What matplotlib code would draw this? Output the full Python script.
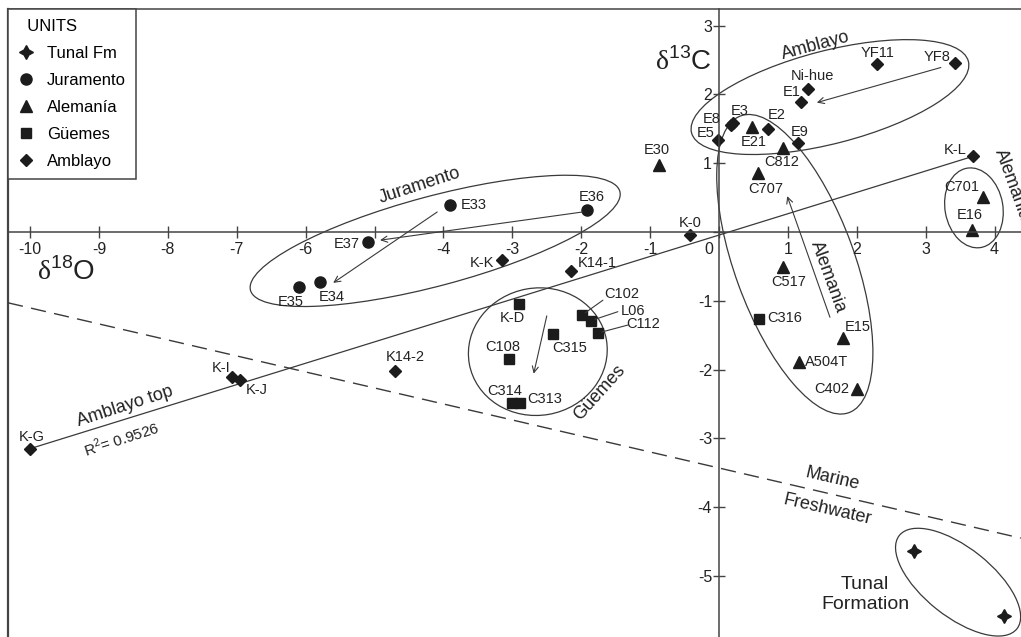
import numpy as np
import matplotlib
matplotlib.use("Agg")
import matplotlib.pyplot as plt
from matplotlib.patches import Ellipse
from matplotlib.lines import Line2D
import matplotlib.transforms as mtransforms

plt.rcParams['font.family'] = ['Liberation Sans', 'DejaVu Sans']
plt.rcParams['axes.unicode_minus'] = False
plt.rcParams['mathtext.fontset'] = 'custom'
plt.rcParams['mathtext.rm'] = 'Liberation Serif'
plt.rcParams['mathtext.sf'] = 'Liberation Sans'

# --- isotope data (d18O, d13C) per unit ---
tunal_x = [2.83, 4.14]
tunal_y = [-4.64, -5.58]

jur_names = ["E33", "E36", "E37", "E35", "E34"]
jur_x = [-3.90, -1.92, -5.09, -6.10, -5.79]
jur_y = [0.39, 0.32, -0.14, -0.80, -0.73]

ale_names = ["E30", "E21", "C812", "C707", "C701", "E16", "C517", "E15", "A504T", "C402"]
ale_x = [-0.87, 0.48, 0.93, 0.57, 3.83, 3.67, 0.93, 1.80, 1.16, 2.00]
ale_y = [0.97, 1.52, 1.22, 0.86, 0.51, 0.03, -0.51, -1.54, -1.89, -2.28]

gue_names = ["K-D", "C102", "L06", "C112", "C315", "C108", "C314", "C313", "C316"]
gue_x = [-2.90, -1.99, -1.86, -1.76, -2.41, -3.05, -3.00, -2.89, 0.58]
gue_y = [-1.05, -1.21, -1.29, -1.47, -1.48, -1.85, -2.49, -2.48, -1.27]

amb_names = ["YF11", "YF8", "Ni-hue", "E1", "E8", "E3", "E5", "E2", "E9", "K-L",
             "K-0", "K-K", "K14-1", "K14-2", "K-I", "K-J", "K-G"]
amb_x = [2.29, 3.43, 1.29, 1.19, 0.17, 0.21, -0.01, 0.71, 1.15, 3.69,
         -0.42, -3.15, -2.15, -4.70, -7.07, -6.95, -10.0]
amb_y = [2.44, 2.45, 2.08, 1.89, 1.55, 1.58, 1.34, 1.50, 1.29, 1.10,
         -0.04, -0.41, -0.57, -2.02, -2.11, -2.15, -3.15]

# Amblayo top regression and marine/freshwater boundary
reg_x = [-10.0, 3.69]
reg_y = [-3.15, 1.10]
bound_x = [-10.32, 4.38]
bound_y = [-1.03, -4.45]

# label offsets in pixels (dx, dy)
lab_off = {
    "E33": (23, 0), "E36": (5, 13), "E37": (-22, -2), "E35": (-8, -15), "E34": (12, -15),
    "E30": (-2, 15), "E21": (2, -15), "C812": (-1, -14), "C707": (7, -16), "C701": (-21, 10),
    "E16": (-2, 15), "C517": (6, -15), "E15": (15, 11), "A504T": (28, 0), "C402": (-25, 0),
    "K-D": (-7, -14), "C102": (40, 21), "L06": (42, 10), "C112": (45, 9), "C315": (17, -14),
    "C108": (-6, 12), "C314": (-8, 12), "C313": (25, 4), "C316": (26, 1),
    "YF11": (1, 11), "YF8": (-18, 6), "Ni-hue": (5, 13), "E1": (-9, 10), "E8": (-19, 6),
    "E3": (6, 12), "E5": (-13, 7), "E2": (9, 14), "E9": (1, 11), "K-L": (-18, 6),
    "K-0": (0, 12), "K-K": (-20, -3), "K14-1": (26, 8), "K14-2": (10, 14), "K-I": (-11, 9),
    "K-J": (17, -10), "K-G": (2, 12),
}
leaders = {"C102": (21, 15), "L06": (27, 9), "C112": (30, 8)}

ink = '#1c1c1c'
line_c = '#3a3a3a'

fig = plt.figure(figsize=(10.21, 6.37), dpi=100)
l = 8 / 1021
t = 9 / 637
ax = fig.add_axes([l, 0, 1 - l, 1 - t])
ax.set_xlim(-10.32, 4.383)
ax.set_ylim(-5.887, 3.24)

ax.spines['right'].set_visible(False)
ax.spines['left'].set_position('zero')
ax.spines['bottom'].set_position('zero')
for s in ['left', 'bottom', 'top']:
    ax.spines[s].set_color('#444444')
    ax.spines[s].set_linewidth(1.1)
# left frame line
ax.plot([0, 0], [0, 1], transform=ax.transAxes, color='#444444', lw=1.6, clip_on=False)

ax.xaxis.set_ticks_position('bottom')
ax.yaxis.set_ticks_position('left')
xt = list(range(-10, 5))
# -5 sits under the E37 point, so it stays unlabelled
ax.set_xticks(xt, [str(v) if v != -5 else "" for v in xt])
yt = [-5, -4, -3, -2, -1, 0, 1, 2, 3]
ax.set_yticks(yt, [str(v) if v != 0 else "" for v in yt])
ax.tick_params(direction='inout', length=8, width=1, color='#444444',
               labelsize=11.5, labelcolor='#222222')
ax.tick_params(axis='x', pad=3)
ax.tick_params(axis='y', pad=1)
for lab in ax.get_xticklabels():
    if lab.get_text() == "0":
        lab.set_transform(lab.get_transform() +
                          mtransforms.ScaledTranslation(-10 / 100, 0, fig.dpi_scale_trans))

# boundary and regression lines
ax.plot(bound_x, bound_y, color=line_c, lw=1.0, dashes=(11, 6))
ax.plot(reg_x, reg_y, color=line_c, lw=0.9)

# group ellipses (center, width, height, angle)
ells = [
    ((1.61, 1.96), 4.15, 1.35, 14.5),
    ((-4.12, -0.13), 5.55, 1.30, 15),
    ((-2.63, -1.74), 2.02, 1.85, 10),
    ((1.10, -0.47), 4.59, 1.74, -70),
    ((3.70, 0.35), 1.17, 0.84, 100),
    ((3.47, -5.09), 2.18, 1.0, -38.5),
]
for c, w, h, a in ells:
    ax.add_patch(Ellipse(c, w, h, angle=a, fill=False, ec=line_c, lw=0.9))

# trend arrows
arrows = [
    ((3.22, 2.39), (1.42, 1.88)),
    ((-1.98, 0.29), (-4.92, -0.12)),
    ((-4.09, 0.29), (-5.60, -0.74)),
    ((-2.50, -1.22), (-2.69, -2.06)),
    ((1.61, -1.24), (0.99, 0.52)),
]
for p0, p1 in arrows:
    ax.annotate("", xy=p1, xytext=p0,
                arrowprops=dict(arrowstyle='->', lw=0.8, color=line_c,
                                shrinkA=0, shrinkB=0, mutation_scale=11))

# markers
star = (4, 1, 0)
ax.plot(tunal_x, tunal_y, ls='none', marker=star, ms=10, color=ink)
ax.plot(jur_x, jur_y, ls='none', marker='o', ms=8, color=ink)
ax.plot(ale_x, ale_y, ls='none', marker='^', ms=9, color=ink)
ax.plot(gue_x, gue_y, ls='none', marker='s', ms=7.5, color=ink)
ax.plot(amb_x, amb_y, ls='none', marker='D', ms=6, color=ink)

# point labels
for names, xs, ys in [(jur_names, jur_x, jur_y), (ale_names, ale_x, ale_y),
                      (gue_names, gue_x, gue_y), (amb_names, amb_x, amb_y)]:
    for n, x, y in zip(names, xs, ys):
        dx, dy = lab_off[n]
        ax.annotate(n, (x, y), xytext=(dx, dy), textcoords='offset pixels',
                    ha='center', va='center', fontsize=10.5, color='#222222')
        if n in leaders:
            lx, ly = leaders[n]
            ax.annotate("", (x, y), xytext=(lx, ly), textcoords='offset pixels',
                        arrowprops=dict(arrowstyle='-', lw=0.8, color=line_c,
                                        shrinkA=0, shrinkB=3))

# group names and annotations
gtxt = dict(fontsize=13, color='#222222', ha='center', va='center', rotation_mode='anchor')
ax.text(1.40, 2.70, "Amblayo", rotation=15, **gtxt)
ax.text(-4.34, 0.67, "Juramento", rotation=18, **gtxt)
ax.text(-1.73, -2.34, "Güemes", rotation=48, **gtxt)
ax.text(1.58, -0.65, "Alemania", rotation=-70, **gtxt)
ax.text(4.25, 0.68, "Alemania", rotation=-70, **gtxt)
ax.text(-8.62, -2.53, "Amblayo top", rotation=18, **gtxt)
ax.text(-8.67, -3.0, r"R$^\mathsf{2}$= 0.9526", rotation=18, fontsize=11,
        color='#222222', ha='center', va='center', rotation_mode='anchor')
ax.text(1.64, -3.59, "Marine", rotation=-13, **gtxt)
ax.text(1.57, -4.04, "Freshwater", rotation=-13, **gtxt)
ax.text(2.12, -5.27, "Tunal\nFormation", fontsize=14, color='#222222',
        ha='center', va='center', linespacing=1.2)

ax.text(-0.52, 2.47, r"$\mathrm{\delta}^{\mathsf{13}}\mathsf{C}$", fontsize=20,
        ha='center', va='center', color='#222222')
ax.text(-9.48, -0.58, r"$\mathrm{\delta}^{\mathsf{18}}\mathsf{O}$", fontsize=20,
        ha='center', va='center', color='#222222')

# legend
units = ["Tunal Fm", "Juramento", "Alemanía", "Güemes", "Amblayo"]
mk = [(star, 10), ('o', 8), ('^', 9), ('s', 7.5), ('D', 6)]
handles = [Line2D([], [], ls='none', marker=m, ms=s, color=ink) for m, s in mk]
leg = ax.legend(handles, units, title="  UNITS", loc='upper left', bbox_to_anchor=(0, 1),
                borderaxespad=0, fontsize=12, title_fontsize=12, frameon=True,
                fancybox=False, edgecolor='#444444', framealpha=1, labelspacing=0.72,
                handlelength=1.0, handletextpad=0.75, borderpad=0.6, alignment='left')
leg.get_frame().set_linewidth(1.1)

fig.savefig("out.png", dpi=100)
